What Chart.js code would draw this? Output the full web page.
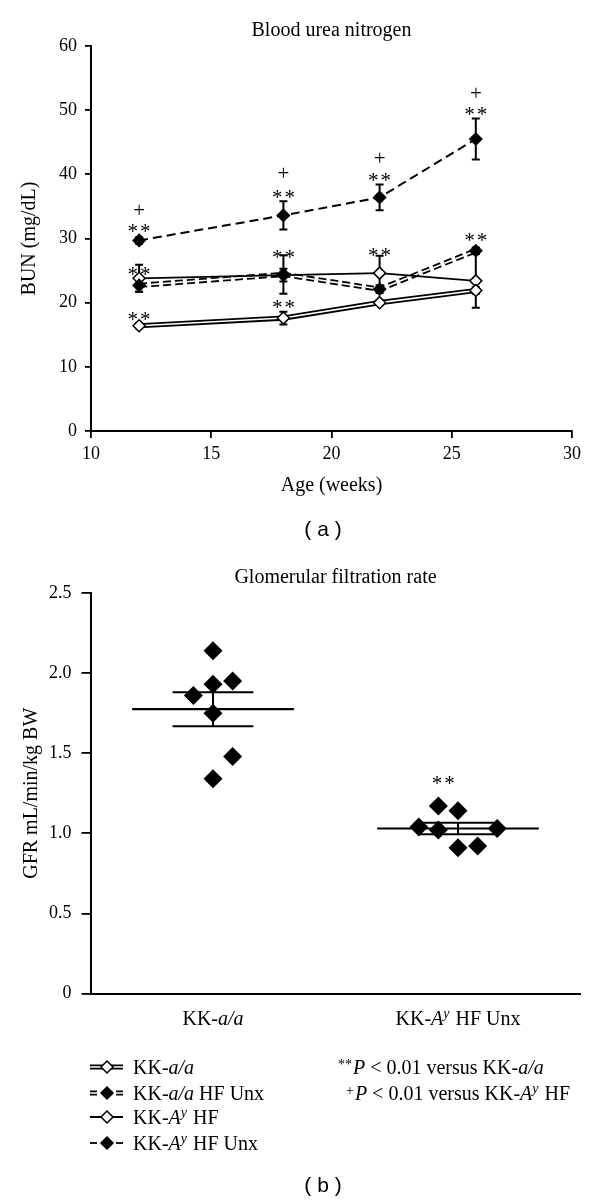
<!DOCTYPE html>
<html><head><meta charset="utf-8">
<script src="https://cdn.jsdelivr.net/npm/chart.js@4.4.0/dist/chart.umd.min.js"></script>
<style>
html,body{margin:0;padding:0;background:#fff;}
#wrap{position:relative;width:600px;height:1201px;background:#fff;}
canvas{position:absolute;left:0;}
#c1{top:0;} #c2{top:545px;}
</style></head><body>
<div id="wrap"><canvas id="c1" width="600" height="545"></canvas><canvas id="c2" width="600" height="656"></canvas></div>
<script>
const SERIF = '"Liberation Serif", "Times New Roman", serif';
const SANS = '"Liberation Sans", Arial, sans-serif';

// ---------- Panel (a): Blood urea nitrogen ----------
const weeks = [12, 18, 22, 26];
const ageTicks = [10, 15, 20, 25, 30];
const bunTicks = [0, 10, 20, 30, 40, 50, 60];
const seriesNames = ['KK-a/a', 'KK-a/a HF Unx', 'KK-Aʸ HF', 'KK-Aʸ HF Unx'];
const bunAA = [16.4, 17.6, 20.0, 21.9];
const errAA = [0.4, 1.0, 0.4, 0.5];
const bunAAUnx = [22.7, 24.4, 22.1, 28.1];
const errAAUnx = [1.0, 3.0, 0.6, 0.5];
const bunAyHF = [23.8, 24.3, 24.6, 23.4];
const errAyHF = [2.1, 1.0, 2.7, 4.2];
const bunAyUnx = [29.7, 33.6, 36.4, 45.5];
const errAyUnx = [0.5, 2.2, 2.0, 3.2];
// significance marks (week, BUN level where the mark sits, text)
const sigWeeks  = [12, 12, 12, 12, 18, 18, 18, 18, 22, 22, 22, 26, 26, 26];
const sigLevels = [34.2, 31.8, 25.1, 18.1, 39.9, 37.1, 27.8, 20.0, 42.3, 39.7, 28.1, 52.4, 50.0, 30.3];
const sigTexts  = ['+', '**', '**', '**', '+', '**', '**', '**', '+', '**', '**', '+', '**', '**'];

// ---------- Panel (b): Glomerular filtration rate ----------
const groups = ['KK-a/a', 'KK-Aʸ HF Unx'];
const gfrAA = [2.14, 1.93, 1.95, 1.86, 1.75, 1.48, 1.34];
const jitterAA = [0, 0, 0.16, -0.16, 0, 0.16, 0];
const gfrAyUnx = [1.04, 1.17, 1.14, 1.02, 1.03, 0.91, 0.92];
const jitterAyUnx = [-0.32, -0.16, 0, -0.16, 0.32, 0, 0.16];
const gfrMean = [1.775, 1.03];
const gfrSem = [0.106, 0.036];
const gfrTicks = [0, 0.5, 1.0, 1.5, 2.0, 2.5];
const gfrSigTexts = ['', '**'];
const gfrSigLevels = [null, 1.34];
const notes = ['**P < 0.01 versus KK-a/a', '+P < 0.01 versus KK-Aʸ HF'];

Chart.defaults.font.family = SERIF;
Chart.defaults.color = '#000';

// ---------- rich text helpers ----------
function richSegs(str) {
  const out = [];
  str.split(/(\*\*|\+|P|a\/a|Aʸ)/).forEach(p => {
    if (!p) return;
    if (p === '**') out.push({t: p, sup: 0.22});
    else if (p === '+') out.push({t: p, sup: 0.25});
    else if (p === 'P' || p === 'a/a') out.push({t: p, it: true});
    else if (p === 'Aʸ') { out.push({t: 'A', it: true}); out.push({t: 'y', it: true, sup: 0.33}); }
    else out.push({t: p});
  });
  return out;
}
function segFont(s, size) { return (s.it ? 'italic ' : '') + (s.sup ? (size * 0.7).toFixed(1) : size) + 'px ' + SERIF; }
function drawRich(ctx, str, x, cy, size, align) {
  const segs = richSegs(str);
  let w = 0;
  segs.forEach(s => { ctx.font = segFont(s, size); w += ctx.measureText(s.t).width + (s.sup ? 1 : 0); });
  let cx = align === 'center' ? x - w / 2 : (align === 'right' ? x - w : x);
  const base = cy + 0.33 * size;
  ctx.save();
  ctx.textBaseline = 'alphabetic'; ctx.textAlign = 'left'; ctx.fillStyle = '#000';
  segs.forEach(s => {
    ctx.font = segFont(s, size);
    ctx.fillText(s.t, cx, s.sup ? base - s.sup * size : base);
    cx += ctx.measureText(s.t).width + (s.sup ? 1 : 0);
  });
  ctx.restore();
}
function drawDiamond(ctx, x, y, r, filled) {
  ctx.beginPath();
  ctx.moveTo(x - r, y); ctx.lineTo(x, y - r); ctx.lineTo(x + r, y); ctx.lineTo(x, y + r); ctx.closePath();
  ctx.fillStyle = filled ? '#000' : '#fff'; ctx.fill();
  ctx.lineWidth = 1.5; ctx.strokeStyle = '#000'; ctx.stroke();
}
function sigMark(ctx, text, x, cy, size) {
  ctx.save();
  ctx.font = size + 'px ' + SERIF;
  ctx.textAlign = 'center'; ctx.textBaseline = 'alphabetic'; ctx.fillStyle = '#000';
  if (text === '**') { ctx.letterSpacing = '2px'; ctx.fillText(text, x + 1, cy + 0.52 * size); }
  else ctx.fillText(text, x, cy + 0.25 * size);
  ctx.restore();
}

const pts = vals => vals.map((v, i) => ({x: weeks[i], y: v}));
const lineDS = (vals, width, color, dash, order) => ({
  data: pts(vals), borderColor: color, borderWidth: width, borderDash: dash, pointRadius: 0,
  fill: false, tension: 0, order: order
});
const markDS = (vals, filled, order) => ({
  data: pts(vals), showLine: false, pointStyle: 'rectRot', pointRadius: 6, pointHoverRadius: 6,
  pointBackgroundColor: filled ? '#000' : '#fff', pointBorderColor: '#000', pointBorderWidth: 1.5, order: order
});

const plugA = {
  id: 'plugA',
  beforeDatasetsDraw(chart) {
    const {ctx, scales: {x, y}} = chart;
    ctx.save(); ctx.strokeStyle = '#000'; ctx.lineWidth = 2;
    [[bunAA, errAA], [bunAAUnx, errAAUnx], [bunAyHF, errAyHF], [bunAyUnx, errAyUnx]].forEach(([vals, errs]) => {
      vals.forEach((v, i) => {
        const px = x.getPixelForValue(weeks[i]);
        const t = y.getPixelForValue(v + errs[i]), b = y.getPixelForValue(v - errs[i]);
        ctx.beginPath();
        ctx.moveTo(px, t); ctx.lineTo(px, b);
        ctx.moveTo(px - 4, t); ctx.lineTo(px + 4, t);
        ctx.moveTo(px - 4, b); ctx.lineTo(px + 4, b);
        ctx.stroke();
      });
    });
    ctx.restore();
  },
  afterDatasetsDraw(chart) {
    const {ctx, scales: {x, y}} = chart;
    sigTexts.forEach((t, i) => sigMark(ctx, t, x.getPixelForValue(sigWeeks[i]), y.getPixelForValue(sigLevels[i]), 21));
  },
  afterDraw(chart) {
    const ctx = chart.ctx;
    ctx.save();
    ctx.font = '21px ' + SANS; ctx.textAlign = 'center'; ctx.textBaseline = 'middle'; ctx.fillStyle = '#000';
    ctx.fillText('( a )', 323, 530);
    ctx.restore();
  }
};

new Chart(document.getElementById('c1'), {
  type: 'line',
  data: {
    datasets: [
      markDS(bunAA, false, 1),
      markDS(bunAAUnx, true, 2),
      markDS(bunAyHF, false, 3),
      markDS(bunAyUnx, true, 4),
      lineDS(bunAyUnx, 2, '#000', [9, 5], 6),
      lineDS(bunAyHF, 1.8, '#000', [], 7),
      lineDS(bunAAUnx, 1.6, '#fff', [8, 4], 8),
      lineDS(bunAAUnx, 5.2, '#000', [8, 4], 9),
      lineDS(bunAA, 1.6, '#fff', [], 10),
      lineDS(bunAA, 5.2, '#000', [], 11)
    ]
  },
  options: {
    responsive: false, animation: false, devicePixelRatio: 1,
    layout: {padding: {left: 0, right: 28, top: 0, bottom: 0}},
    plugins: {
      legend: {display: false}, tooltip: {enabled: false},
      title: {display: true, fullSize: false, text: 'Blood urea nitrogen', color: '#000',
        font: {family: SERIF, size: 20, weight: 'normal'}, padding: {top: 19, bottom: 3}}
    },
    scales: {
      x: {
        type: 'linear', min: 10, max: 30,
        afterBuildTicks: s => { s.ticks = ageTicks.map(v => ({value: v})); },
        afterFit: s => { s.height = 114; },
        grid: {display: true, drawOnChartArea: false, drawTicks: true, tickLength: 7, color: '#000', lineWidth: 1.8},
        border: {display: true, color: '#000', width: 2},
        ticks: {color: '#000', font: {family: SERIF, size: 18}, padding: 5, maxRotation: 0},
        title: {display: true, text: 'Age (weeks)', color: '#000', font: {family: SERIF, size: 20}, padding: {top: 0, bottom: 47}}
      },
      y: {
        type: 'linear', min: 0, max: 60,
        afterBuildTicks: s => { s.ticks = bunTicks.map(v => ({value: v})); },
        afterFit: s => { s.width = 91; },
        grid: {display: true, drawOnChartArea: false, drawTicks: true, tickLength: 6, color: '#000', lineWidth: 1.8},
        border: {display: true, color: '#000', width: 2},
        ticks: {color: '#000', font: {family: SERIF, size: 18}, padding: 8},
        title: {display: true, text: 'BUN (mg/dL)', color: '#000', font: {family: SERIF, size: 20}, padding: {top: 18, bottom: 0}}
      }
    }
  },
  plugins: [plugA]
});

// ---------- Panel (b) ----------
const catX = i => 1 + 2 * i;
const gfrPts = (vals, jit, i) => vals.map((v, k) => ({x: catX(i) + jit[k], y: v}));
const segDS = (data, w) => ({type: 'line', data: data, showLine: true, borderColor: '#000', borderWidth: w, pointRadius: 0, order: 5});
const bDatasets = [
  {data: gfrPts(gfrAA, jitterAA, 0), showLine: false, pointStyle: 'rectRot', pointRadius: 9.5, pointHoverRadius: 9.5,
   pointBackgroundColor: '#000', pointBorderColor: '#000', pointBorderWidth: 0, order: 1},
  {data: gfrPts(gfrAyUnx, jitterAyUnx, 1), showLine: false, pointStyle: 'rectRot', pointRadius: 9.5, pointHoverRadius: 9.5,
   pointBackgroundColor: '#000', pointBorderColor: '#000', pointBorderWidth: 0, order: 1}
];
gfrMean.forEach((m, i) => {
  const c = catX(i), s = gfrSem[i];
  bDatasets.push(segDS([{x: c - 0.66, y: m}, {x: c + 0.66, y: m}], 2.2));
  bDatasets.push(segDS([{x: c - 0.33, y: m + s}, {x: c + 0.33, y: m + s}], 2));
  bDatasets.push(segDS([{x: c - 0.33, y: m - s}, {x: c + 0.33, y: m - s}], 2));
  bDatasets.push(segDS([{x: c, y: m - s}, {x: c, y: m + s}], 2));
});

const legendRows = [522, 548, 572, 598];
const plugB = {
  id: 'plugB',
  afterDatasetsDraw(chart) {
    const {ctx, scales: {x, y}} = chart;
    gfrSigTexts.forEach((t, i) => { if (t) sigMark(ctx, t, x.getPixelForValue(catX(i) - 0.12), y.getPixelForValue(gfrSigLevels[i]), 21); });
  },
  afterDraw(chart) {
    const {ctx, scales: {x}} = chart;
    groups.forEach((g, i) => drawRich(ctx, g, x.getPixelForValue(catX(i)), 473, 20, 'center'));
    // legend
    const styles = [
      {double: true, dashed: false, filled: false},
      {double: true, dashed: true, filled: true},
      {double: false, dashed: false, filled: false},
      {double: false, dashed: true, filled: true}
    ];
    seriesNames.forEach((name, i) => {
      const cy = legendRows[i], st = styles[i];
      const segs = st.dashed ? [[90, 97], [116, 123]] : [[90, 123]];
      ctx.save();
      segs.forEach(([a, b]) => {
        ctx.beginPath(); ctx.moveTo(a, cy); ctx.lineTo(b, cy);
        ctx.strokeStyle = '#000'; ctx.lineWidth = st.double ? 5 : 1.8; ctx.stroke();
        if (st.double) { ctx.beginPath(); ctx.moveTo(a - 1, cy); ctx.lineTo(b + 1, cy); ctx.strokeStyle = '#fff'; ctx.lineWidth = 1.5; ctx.stroke(); }
      });
      drawDiamond(ctx, 107, cy, 6, st.filled);
      ctx.restore();
      drawRich(ctx, name, 133, cy, 20, 'left');
    });
    drawRich(ctx, notes[0], 338, legendRows[0], 20, 'left');
    drawRich(ctx, notes[1], 346, legendRows[1], 20, 'left');
    ctx.save();
    ctx.font = '21px ' + SANS; ctx.textAlign = 'center'; ctx.textBaseline = 'middle'; ctx.fillStyle = '#000';
    ctx.fillText('( b )', 323, 641);
    ctx.restore();
  }
};

new Chart(document.getElementById('c2'), {
  type: 'scatter',
  data: {datasets: bDatasets},
  options: {
    responsive: false, animation: false, devicePixelRatio: 1,
    layout: {padding: {left: 0, right: 19.5, top: 0, bottom: 0}},
    plugins: {
      legend: {display: false}, tooltip: {enabled: false},
      title: {display: true, fullSize: false, text: 'Glomerular filtration rate', color: '#000',
        font: {family: SERIF, size: 20, weight: 'normal'}, padding: {top: 21, bottom: 3}}
    },
    scales: {
      x: {
        type: 'linear', min: 0, max: 4,
        afterFit: s => { s.height = 207.5; },
        grid: {display: false, drawTicks: false},
        border: {display: true, color: '#000', width: 2},
        ticks: {display: false}
      },
      y: {
        type: 'linear', min: 0, max: 2.5,
        afterBuildTicks: s => { s.ticks = gfrTicks.map(v => ({value: v})); },
        afterFit: s => { s.width = 90.5; },
        grid: {display: true, drawOnChartArea: false, drawTicks: true, tickLength: 9, color: '#000', lineWidth: 1.8},
        border: {display: true, color: '#000', width: 2},
        ticks: {color: '#000', font: {family: SERIF, size: 18}, padding: 10,
          callback: v => (v === 0 ? '0' : Number(v).toFixed(1))},
        title: {display: true, text: 'GFR mL/min/kg BW', color: '#000', font: {family: SERIF, size: 20}, padding: {top: 20, bottom: 0}}
      }
    }
  },
  plugins: [plugB]
});
</script>
</body></html>
